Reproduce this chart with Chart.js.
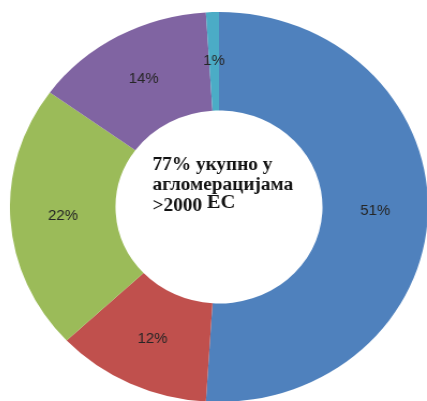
<!DOCTYPE html>
<html>
<head>
<meta charset="utf-8">
<script src="https://cdn.jsdelivr.net/npm/chart.js@4/dist/chart.umd.min.js"></script>
<style>
html,body{margin:0;padding:0;width:427px;height:401px;overflow:hidden;background:#fff;}
#c{position:absolute;left:24px;top:12px;transform:scaleX(1.072);transform-origin:50% 50%;}
</style>
</head>
<body>
<canvas id="c" width="390" height="390"></canvas>
<script>
const categories = ["A", "B", "C", "D", "E"];
const values = [51, 12, 22, 14, 1];
const valueLabels = ["51%", "12%", "22%", "14%", "1%"];
const colors = ["#4F81BD", "#C0504D", "#9BBB59", "#8064A2", "#4BACC6"];
const centerLines = ["77% укупно у", "агломерацијама", ">2000"];
const centerSuffix = "ЕС";

const labelPlugin = {
  id: 'labels',
  afterDatasetsDraw(chart) {
    const ctx = chart.ctx;
    const meta = chart.getDatasetMeta(0);
    ctx.save();
    ctx.font = '14px "Liberation Sans", Arial, sans-serif';
    ctx.fillStyle = '#262626';
    ctx.textAlign = 'center';
    ctx.textBaseline = 'middle';
    meta.data.forEach((arc, i) => {
      const p = arc.getCenterPoint();
      ctx.fillText(valueLabels[i], p.x, p.y);
    });
    // center text
    const cx = meta.data[0].x, cy = meta.data[0].y;
    ctx.textAlign = 'left';
    ctx.textBaseline = 'alphabetic';
    ctx.fillStyle = '#111';
    ctx.font = 'bold 18px "Liberation Serif", "Times New Roman", serif';
    const left = cx - 62;
    const baselines = [cy - 37, cy - 17, cy + 3.5];
    centerLines.forEach((t, i) => ctx.fillText(t, left, baselines[i]));
    const w = ctx.measureText(centerLines[2] + " ").width;
    ctx.font = 'bold 19px "Liberation Serif", "Times New Roman", serif';
    ctx.fillText(centerSuffix, left + w, baselines[2] - 3);
    ctx.restore();
  }
};

new Chart(document.getElementById('c'), {
  type: 'doughnut',
  data: {
    labels: categories,
    datasets: [{
      data: values,
      backgroundColor: colors,
      borderWidth: 0
    }]
  },
  options: {
    responsive: false,
    animation: false,
    cutout: '49.5%',
    layout: { padding: 0 },
    plugins: { legend: { display: false }, tooltip: { enabled: false } }
  },
  plugins: [labelPlugin]
});
</script>
</body>
</html>
